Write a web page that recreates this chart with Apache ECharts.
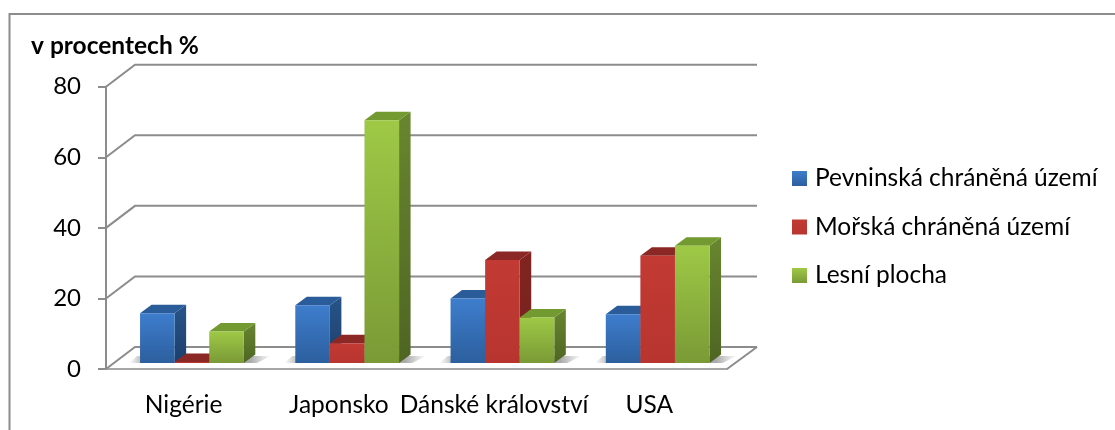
<!DOCTYPE html>
<html>
<head>
<meta charset="utf-8">
<style>html,body{margin:0;padding:0;background:#fff}#c{width:1115px;height:430px}</style>
<script src="https://cdn.jsdelivr.net/npm/echarts@6/dist/echarts.min.js"></script>
</head>
<body>
<div id="c"></div>
<script>
const categories = ['Nigérie', 'Japonsko', 'Dánské království', 'USA'];
const yTicks = [0, 20, 40, 60, 80];
const land = [14.1, 16.4, 18.3, 13.8];
const marine = [0.3, 5.6, 29.2, 30.4];
const forest = [8.9, 68.8, 12.9, 33.2];
const seriesNames = ['Pevninská chráněná území', 'Mořská chráněná území', 'Lesní plocha'];

const FONT = 'Lato';
const DX = 29, DY = 22;          // wall depth
const BAR_DX = 11.5, BAR_DY = 8.5, BASE_LIFT = 6; // bar depth, floor offset
const BAR_FRAC = 0.2228, GROUP_OFFSET = 0.2807;

function vgrad(a, b) {
  return { type: 'linear', x: 0, y: 0, x2: 0, y2: 1, colorStops: [{ offset: 0, color: a }, { offset: 1, color: b }] };
}
const palette = [
  { front: vgrad('#3e7dcd', '#2c5f9e'), side: vgrad('#275489', '#1d3f6c'), top: '#2a5c99' },
  { front: vgrad('#c23a33', '#b8352f'), side: vgrad('#812420', '#762220'), top: '#8b2825' },
  { front: vgrad('#9ec946', '#7a9a36'), side: vgrad('#68862f', '#4e6523'), top: '#739a30' }
];

function barSeries(name, values, idx) {
  return {
    type: 'custom', name, z: 5, clip: false, silent: true,
    itemStyle: { color: palette[idx].front },
    encode: { x: 0, y: 1 },
    data: values.map((v, i) => [i, v]),
    renderItem(params, api) {
      const band = api.size([1, 0])[0];
      const c = api.coord([api.value(0), 0]);
      const t = api.coord([api.value(0), api.value(1)]);
      const w = band * BAR_FRAC;
      const x = c[0] - band * GROUP_OFFSET + idx * w;
      const y0 = c[1] - BASE_LIFT, y1 = t[1] - BASE_LIFT;
      const p = palette[idx];
      return {
        type: 'group',
        children: [
          { type: 'polygon', shape: { points: [[x + w, y1], [x + w + BAR_DX, y1 - BAR_DY], [x + w + BAR_DX, y0 - BAR_DY], [x + w, y0]] }, style: { fill: p.side } },
          { type: 'polygon', shape: { points: [[x, y1], [x + BAR_DX, y1 - BAR_DY], [x + w + BAR_DX, y1 - BAR_DY], [x + w, y1]] }, style: { fill: p.top } },
          { type: 'rect', shape: { x, y: y1, width: w, height: y0 - y1 }, style: { fill: p.front } }
        ]
      };
    }
  };
}

const wallSeries = {
  type: 'custom', z: 1, clip: false, silent: true,
  encode: { y: 1 },
  data: yTicks.map(v => [0, v]),
  renderItem(params, api) {
    const g = params.coordSys;
    const y = api.coord([0, api.value(1)])[1];
    const style = { stroke: '#8c8c8c', lineWidth: 2, fill: null };
    const right = g.x + g.width + DX + 1;
    const children = [{ type: 'polyline', shape: { points: [[g.x, y], [g.x + DX, y - DY], [right, y - DY]] }, style }];
    if (api.value(1) === 0) {
      children.push({ type: 'polyline', shape: { points: [[g.x + g.width, y], [right, y - DY]] }, style });
    }
    return { type: 'group', children };
  }
};

const shadowSeries = {
  type: 'custom', z: 2, clip: false, silent: true,
  encode: { x: 0, y: 1 },
  data: categories.map((c, i) => [i, 0]),
  renderItem(params, api) {
    const band = api.size([1, 0])[0];
    const c = api.coord([api.value(0), 0]);
    const xL = c[0] - band * GROUP_OFFSET, xR = xL + 3 * band * BAR_FRAC;
    const y = c[1] - BASE_LIFT;
    return {
      type: 'polygon',
      shape: { points: [[xL - 11, y], [xL - 3, y - 7], [xR + 27, y - 7], [xR + 13, y]] },
      style: {
        fill: {
          type: 'linear', x: 0, y: 0, x2: 1, y2: 0,
          colorStops: [
            { offset: 0, color: '#ffffff' }, { offset: 0.09, color: '#bcbcbc' },
            { offset: 0.85, color: '#a8a8a8' }, { offset: 1, color: '#ffffff' }
          ]
        }
      }
    };
  }
};

const chart = echarts.init(document.getElementById('c'), null, { renderer: 'canvas' });
chart.setOption({
  animation: false,
  backgroundColor: '#fff',
  textStyle: { fontFamily: FONT },
  title: {
    text: 'v procentech %', left: 26, top: 29,
    textStyle: { fontFamily: FONT, fontSize: 24.5, fontWeight: 'bold', color: '#000' }
  },
  graphic: [{
    type: 'polyline', silent: true,
    shape: { points: [[9.5, 430], [9.5, 14], [1115, 14]] },
    style: { stroke: '#8c8c8c', lineWidth: 2, fill: null }
  }],
  legend: {
    orient: 'vertical', left: 792, top: 166, icon: 'rect', padding: 0,
    itemWidth: 15, itemHeight: 15, itemGap: 23.5,
    selectedMode: false,
    textStyle: { fontFamily: FONT, fontSize: 24.5, color: '#000', padding: [0, 0, 0, 3] },
    data: seriesNames.map((n, i) => ({ name: n, itemStyle: { color: palette[i].front } }))
  },
  grid: { left: 106, top: 86.7, width: 621, height: 282.3, containLabel: false },
  xAxis: {
    type: 'category', data: categories,
    axisLine: { lineStyle: { color: '#a6a6a6', width: 2 } },
    axisTick: { length: 7, lineStyle: { color: '#8c8c8c', width: 2 } },
    axisLabel: { fontFamily: FONT, fontSize: 24.5, color: '#000', margin: 24, interval: 0 }
  },
  yAxis: {
    type: 'value', min: 0, max: 80, interval: 20,
    axisLine: { show: true, lineStyle: { color: '#8c8c8c', width: 2 } },
    axisTick: { show: true, length: 8, lineStyle: { color: '#8c8c8c', width: 2 } },
    splitLine: { show: false },
    axisLabel: { fontFamily: FONT, fontSize: 24, color: '#000', margin: 25, padding: [3, 0, 0, 0] }
  },
  series: [
    wallSeries,
    shadowSeries,
    barSeries(seriesNames[0], land, 0),
    barSeries(seriesNames[1], marine, 1),
    barSeries(seriesNames[2], forest, 2)
  ]
});
</script>
</body>
</html>
